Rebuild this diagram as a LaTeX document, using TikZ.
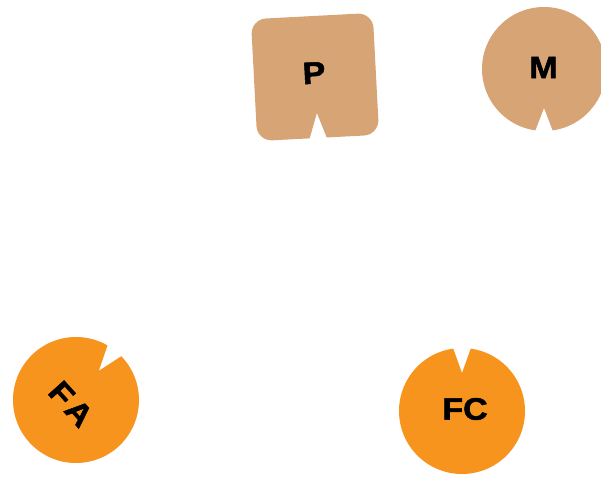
\documentclass[tikz,border=0pt]{standalone}
\usepackage{fontspec}
\setmainfont{Liberation Sans}
\newfontfamily\heavyfont[FakeBold=1.6]{Liberation Sans Bold}
\definecolor{tanc}{RGB}{215,164,117}
\definecolor{orangec}{RGB}{247,148,29}
\tikzset{
  lbl/.style={font=\fontsize{31}{31}\heavyfont, text=black, inner sep=0pt},
}
\newcommand\notchdisc[5]{% color, center, radius, notch angle, apex distance
  \fill[#1, shift={#2}] (#4+8:#3) arc[start angle=#4+8, end angle=#4+352, radius=#3] -- (#4:#5) -- cycle;}
\begin{document}
\begin{tikzpicture}[x=1pt,y=1pt]
\useasboundingbox (0,0) rectangle (601,477);
% P rounded square
\fill[tanc, shift={(315,400)}, rotate=3]
  (8.5,-61) -- (46,-61) arc[start angle=-90,end angle=0,radius=15]
  -- (61,46) arc[start angle=0,end angle=90,radius=15]
  -- (-46,61) arc[start angle=90,end angle=180,radius=15]
  -- (-61,-46) arc[start angle=180,end angle=270,radius=15]
  -- (-8.5,-61) -- (0,-36) -- cycle;
\notchdisc{tanc}{(544,408)}{62}{270}{39}
\notchdisc{orangec}{(76,77)}{63}{52}{37}
\notchdisc{orangec}{(462,66)}{63}{90}{38}
\node[lbl, rotate=3] (P) at (314,404) {\scalebox{1.1}[1]{P}};
\node[lbl] (M) at (543.5,409.5) {\scalebox{1.1}[1]{M}};
\node[lbl, rotate=-48] (FA) at (71,73) {\scalebox{1.1}[1]{F\kern3pt A}};
\node[lbl] (FC) at (465,68) {\scalebox{1.1}[1]{FC}};
\end{tikzpicture}
\end{document}
